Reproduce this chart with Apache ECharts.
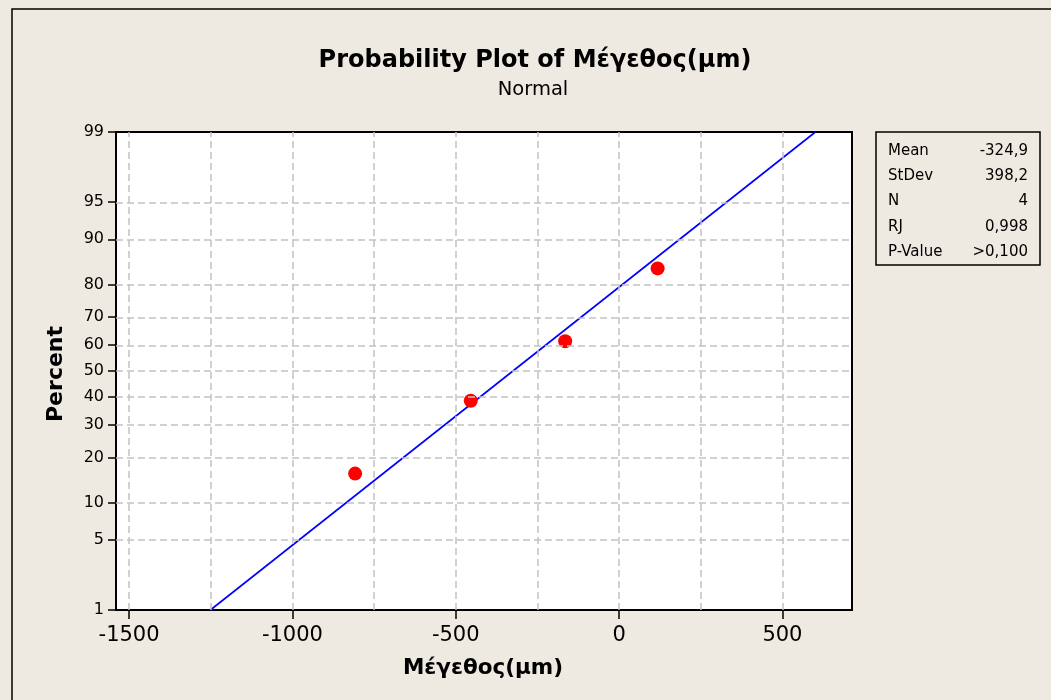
<!DOCTYPE html>
<html><head><meta charset="utf-8">
<script src="https://cdn.jsdelivr.net/npm/echarts@6/dist/echarts.min.js"></script>
<style>html,body{margin:0;padding:0;background:#eeeae1}#c{width:1051px;height:700px}</style>
</head><body><div id="c"></div>
<script>
// ---- data ----
const percentTicks = [1, 5, 10, 20, 30, 40, 50, 60, 70, 80, 90, 95, 99];
const percentGrid = [5, 10, 20, 30, 40, 50, 60, 70, 80, 90, 95];
const xTicks = [-1500, -1000, -500, 0, 500];
const xGrid = [-1500, -1250, -1000, -750, -500, -250, 0, 250, 500];
const sizes = [-808, -454, -165, 118];
const percents = [15.9, 38.6, 61.4, 84.1];
const fitX = [-1251, 601];
const fitP = [1, 99];
const statsLabels = ['Mean', 'StDev', 'N', 'RJ', 'P-Value'];
const statsValues = ['-324,9', '398,2', '4', '0,998', '>0,100'];

// inverse normal CDF (probability axis transform)
function norminv(p) {
  const a = [-3.969683028665376e+01, 2.209460984245205e+02, -2.759285104469687e+02, 1.383577518672690e+02, -3.066479806614716e+01, 2.506628277459239e+00];
  const b = [-5.447609879822406e+01, 1.615858368580409e+02, -1.556989798598866e+02, 6.680131188771972e+01, -1.328068155288572e+01];
  const c = [-7.784894002430293e-03, -3.223964580411365e-01, -2.400758277161838e+00, -2.549732539343734e+00, 4.374664141464968e+00, 2.938163982698783e+00];
  const d = [7.784695709041462e-03, 3.224671290700398e-01, 2.445134137142996e+00, 3.754408661907416e+00];
  const pl = 0.02425, ph = 1 - pl;
  let q, r;
  if (p < pl) { q = Math.sqrt(-2 * Math.log(p)); return (((((c[0]*q+c[1])*q+c[2])*q+c[3])*q+c[4])*q+c[5]) / ((((d[0]*q+d[1])*q+d[2])*q+d[3])*q+1); }
  if (p <= ph) { q = p - 0.5; r = q*q; return (((((a[0]*r+a[1])*r+a[2])*r+a[3])*r+a[4])*r+a[5])*q / (((((b[0]*r+b[1])*r+b[2])*r+b[3])*r+b[4])*r+1); }
  q = Math.sqrt(-2 * Math.log(1 - p)); return -(((((c[0]*q+c[1])*q+c[2])*q+c[3])*q+c[4])*q+c[5]) / ((((d[0]*q+d[1])*q+d[2])*q+d[3])*q+1);
}
const zTicks = percentTicks.map(p => norminv(p / 100));
const FONT = "'DejaVu Sans', sans-serif";

const chart = echarts.init(document.getElementById('c'), null, {renderer: 'canvas'});
const gridLines = [].concat(
  xGrid.map(v => ({xAxis: v})),
  percentGrid.map(p => ({yAxis: norminv(p / 100)}))
);
const fitData = fitX.map((x, i) => [x, norminv(fitP[i] / 100)]);

const statsGraphics = [];
statsLabels.forEach((s, i) => {
  statsGraphics.push({type: 'text', x: 888, y: 151 + i * 25.3, style: {text: s, font: '15px ' + FONT, fill: '#000', textAlign: 'left', textVerticalAlign: 'middle'}});
  statsGraphics.push({type: 'text', x: 1028, y: 151 + i * 25.3, style: {text: statsValues[i], font: '15px ' + FONT, fill: '#000', textAlign: 'right', textVerticalAlign: 'middle'}});
});

chart.setOption({
  animation: false,
  backgroundColor: '#eeeae1',
  grid: {left: 116, top: 132, width: 736, height: 478, show: true, backgroundColor: '#ffffff', borderColor: '#000', borderWidth: 2, containLabel: false},
  xAxis: {
    type: 'value', min: -1540, max: 713,
    axisLine: {show: true, onZero: false, lineStyle: {color: '#000', width: 2}},
    axisTick: {show: true, inside: false, length: 9, customValues: xTicks, lineStyle: {color: '#000', width: 1.5}},
    axisLabel: {customValues: xTicks, fontSize: 21, color: '#000', fontFamily: FONT, margin: 15, formatter: v => String(v)},
    splitLine: {show: false}
  },
  yAxis: {
    type: 'value', min: zTicks[0], max: zTicks[zTicks.length - 1],
    axisLine: {show: true, onZero: false, lineStyle: {color: '#000', width: 2}},
    axisTick: {show: true, inside: false, length: 8, customValues: zTicks, lineStyle: {color: '#000', width: 1.5}},
    axisLabel: {customValues: zTicks, fontSize: 16, color: '#000', fontFamily: FONT, margin: 12,
      formatter: v => { let best = 0; zTicks.forEach((z, i) => { if (Math.abs(z - v) < Math.abs(zTicks[best] - v)) best = i; }); return String(percentTicks[best]); }},
    splitLine: {show: false}
  },
  series: [
    {type: 'line', data: fitData, z: 1, showSymbol: false, silent: true, lineStyle: {opacity: 0},
      markLine: {silent: true, symbol: ['none', 'none'], label: {show: false}, animation: false,
        lineStyle: {color: '#c2c2c2', width: 1.5, type: [7, 4]}, emphasis: {disabled: true}, data: gridLines}},
    {type: 'line', data: fitData, z: 2, showSymbol: false, silent: true, lineStyle: {color: '#0000ff', width: 1.6}},
    {type: 'scatter', data: sizes.map((x, i) => [x, norminv(percents[i] / 100)]), z: 3, symbolSize: 14, itemStyle: {color: '#ff0000', opacity: 1}, silent: true}
  ],
  graphic: [
    {type: 'rect', shape: {x: 12, y: 9, width: 1100, height: 800}, style: {fill: 'none', stroke: '#000', lineWidth: 1.5}, z: 100},
    {type: 'text', x: 535, y: 61, style: {text: 'Probability Plot of Μέγεθος(μm)', font: 'bold 24px ' + FONT, fill: '#000', textAlign: 'center', textVerticalAlign: 'middle'}},
    {type: 'text', x: 533, y: 90, style: {text: 'Normal', font: '19.5px ' + FONT, fill: '#000', textAlign: 'center', textVerticalAlign: 'middle'}},
    {type: 'text', x: 483, y: 668, style: {text: 'Μέγεθος(μm)', font: 'bold 21.5px ' + FONT, fill: '#000', textAlign: 'center', textVerticalAlign: 'middle'}},
    {type: 'text', x: 56, y: 374, rotation: Math.PI / 2, style: {text: 'Percent', font: 'bold 22px ' + FONT, fill: '#000', textAlign: 'center', textVerticalAlign: 'middle'}},
    {type: 'rect', shape: {x: 876, y: 132, width: 164, height: 133}, style: {fill: 'none', stroke: '#000', lineWidth: 1.5}},
    ...statsGraphics
  ]
});
</script></body></html>
